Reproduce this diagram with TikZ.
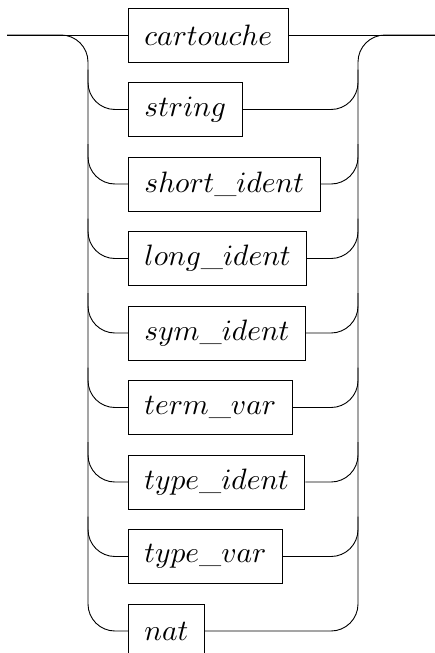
\documentclass[tikz,border=0pt]{standalone}
\usepackage{graphicx}
\newcommand{\railtxt}[1]{\scalebox{2.95}{$#1$}}
\begin{document}
\begin{tikzpicture}[x=1pt,y=-1pt,
  box/.style={draw,line width=0.9pt,anchor=west,minimum height=54pt,inner xsep=16pt,inner ysep=0pt},
  rail/.style={line width=0.9pt,rounded corners=27pt}]
\useasboundingbox (0,0) rectangle (435,653);
\node[box] (n0) at (128,35) {\railtxt{cartouche}};
\node[box] (n1) at (128,109.5) {\railtxt{string}};
\node[box] (n2) at (128,184) {\railtxt{short\_ident}};
\node[box] (n3) at (128,258.5) {\railtxt{long\_ident}};
\node[box] (n4) at (128,333) {\railtxt{sym\_ident}};
\node[box] (n5) at (128,407.5) {\railtxt{term\_var}};
\node[box] (n6) at (128,482) {\railtxt{type\_ident}};
\node[box] (n7) at (128,556.5) {\railtxt{type\_var}};
\node[box] (n8) at (128,631) {\railtxt{nat}};
\coordinate (in) at (7,35);
\coordinate (out) at (435,35);
\coordinate (lc) at (88,35);
\coordinate (rc) at (358,35);
\draw[rail] (in) -- (n0.west);
\draw[rail] (n0.east) -- (out);
\draw[rail] (in) -- (lc) |- (n8.west);
\draw[rail] (n8.east) -| (rc) -- (out);
\foreach \i in {1,...,7}{
  \draw[rail] (lc |- n\i.west) ++(0,-40) |- (n\i.west);
  \draw[rail] (n\i.east) -| ([yshift=40pt]rc |- n\i.east);
}
\end{tikzpicture}
\end{document}
